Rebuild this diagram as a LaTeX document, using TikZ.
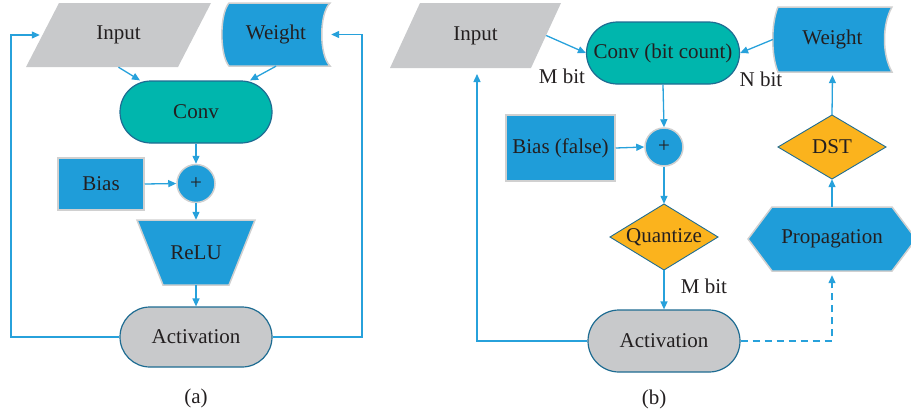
\documentclass[tikz,border=0pt]{standalone}
\usepackage{fontspec}
\setmainfont{Liberation Serif}
\usetikzlibrary{arrows.meta}
\definecolor{blueF}{HTML}{1F9DD9}
\definecolor{lineB}{HTML}{27A1DB}
\definecolor{tealF}{HTML}{00B6AD}
\definecolor{grayF}{HTML}{C8C9CB}
\definecolor{orangeF}{HTML}{FBB31D}
\definecolor{darkB}{HTML}{1E6C92}
\definecolor{lgray}{HTML}{D0D0D0}
\definecolor{textC}{HTML}{231F20}
\begin{document}
\begin{tikzpicture}[x=1pt,y=-1pt,
  lbl/.style={font=\fontsize{21}{24}\selectfont, text=textC, inner sep=0pt},
  stadium/.style={lbl, draw=darkB, line width=1.2pt},
  blueshape/.style={fill=blueF, draw=lgray, line width=1.5pt},
  grayshape/.style={fill=grayF},
  orangeshape/.style={fill=orangeF, draw=darkB, line width=0.9pt},
  conn/.style={draw=lineB, line width=1.3pt, -{Triangle[length=8pt,width=7pt]}},
  dashconn/.style={conn, dash pattern=on 7pt off 5pt}
]
\useasboundingbox (0,0) rectangle (911,413);

% ---------- panel (a) shapes ----------
\path[grayshape] (59,3) -- (211,3) -- (178,67) -- (26,67) -- cycle;
\path[blueshape] (229,3) -- (330,3) .. controls (319,14) and (319,55) .. (330,66)
   -- (229,66) .. controls (219.5,55) and (219.5,14) .. (229,3) -- cycle;
\path[blueshape] (137,220) -- (255,220) -- (229,285) -- (163,285) -- cycle;

% ---------- panel (a) nodes ----------
\node[lbl, minimum width=185pt, minimum height=64pt] (inA) at (118.5,35) {Input};
\node[lbl, minimum width=108pt, minimum height=63pt] (wA) at (276,34.5) {Weight};
\node[stadium, fill=tealF, minimum width=152pt, minimum height=62pt, rounded corners=31pt] (convA) at (196,112) {Conv};
\node[lbl, blueshape, circle, minimum size=38pt] (plusA) at (196,183.5) {+};
\node[lbl, blueshape, minimum width=86pt, minimum height=52pt] (biasA) at (101,184) {Bias};
\node[lbl, minimum width=118pt, minimum height=65pt] (reluA) at (196,252.5) {ReLU};
\node[stadium, fill=grayF, minimum width=152pt, minimum height=60pt, rounded corners=30pt] (actA) at (196,337) {Activation};
\coordinate (loopAL) at (11,337);
\coordinate (loopAR) at (362,337);

% ---------- panel (a) connectors ----------
\draw[conn] (inA.south) -- ([xshift=-56pt]convA.north);
\draw[conn] (wA.south) -- ([xshift=54pt]convA.north);
\draw[conn] (convA.south) -- (plusA.north);
\draw[conn] (biasA.east) -- (plusA.west);
\draw[conn] (plusA.south) -- (reluA.north);
\draw[conn] (reluA.south) -- (actA.north);
\draw[conn] (actA.west) -- (loopAL) |- ([xshift=14pt]inA.west);
\draw[conn] (actA.east) -- (loopAR) |- ([xshift=1pt]wA.east);

\node[lbl] (capA) at (196,398) {(a)};

% ---------- panel (b) shapes ----------
\path[grayshape] (420,3) -- (561,3) -- (531,68) -- (390,68) -- cycle;
\path[blueshape] (778,7) -- (892,7) .. controls (882,24) and (882,55) .. (892,72)
   -- (778,72) .. controls (771,55) and (771,24) .. (778,7) -- cycle;
\path[orangeshape] (610,237) -- (664,204) -- (718,237) -- (664,270) -- cycle;
\path[orangeshape] (778,147) -- (832,115) -- (886,147) -- (832,179) -- cycle;
\path[blueshape] (748,239) -- (772,207) -- (892,207) -- (916,239) -- (892,271) -- (772,271) -- cycle;

% ---------- panel (b) nodes ----------
\node[lbl, minimum width=171pt, minimum height=65pt] (inB) at (475.5,35.5) {Input};
\node[stadium, fill=tealF, minimum width=153pt, minimum height=62pt, rounded corners=31pt] (convB) at (663,53) {Conv (bit count)};
\node[lbl, minimum width=119pt, minimum height=65pt] (wB) at (832.5,39.5) {Weight};
\node[lbl, blueshape, circle, minimum size=38pt] (plusB) at (664,147) {+};
\node[lbl, blueshape, minimum width=109pt, minimum height=66pt] (biasB) at (560.5,148) {Bias (false)};
\node[lbl, minimum width=108pt, minimum height=66pt] (quantB) at (664,237) {Quantize};
\node[stadium, fill=grayF, minimum width=152pt, minimum height=62pt, rounded corners=31pt] (actB) at (664,341) {Activation};
\node[lbl, minimum width=168pt, minimum height=64pt] (propB) at (832,239) {Propagation};
\node[lbl, minimum width=108pt, minimum height=64pt] (dstB) at (832,147) {DST};
\node[lbl] (mbitA) at (562,76) {M bit};
\node[lbl] (nbit) at (761,79) {N bit};
\node[lbl] (mbitB) at (704,286) {M bit};
\coordinate (fbB) at (477,74);

% ---------- panel (b) connectors ----------
\draw[conn] ([xshift=-15pt]inB.east) -- (convB.west);
\draw[conn] (wB.west) -- (convB.east);
\draw[conn] (convB.south) -- (plusB.north);
\draw[conn] (biasB.east) -- (plusB.west);
\draw[conn] (plusB.south) -- (quantB.north);
\draw[conn] (quantB.south) -- (actB.north);
\draw[conn] (actB.west) -| (fbB);
\draw[dashconn] (actB.east) -| ([yshift=-4pt]propB.south);
\draw[conn] (propB.north) -- (dstB.south);
\draw[conn] (dstB.north) -- ([yshift=-3pt]wB.south);

\node[lbl] (capB) at (654,399) {(b)};
\end{tikzpicture}
\end{document}
